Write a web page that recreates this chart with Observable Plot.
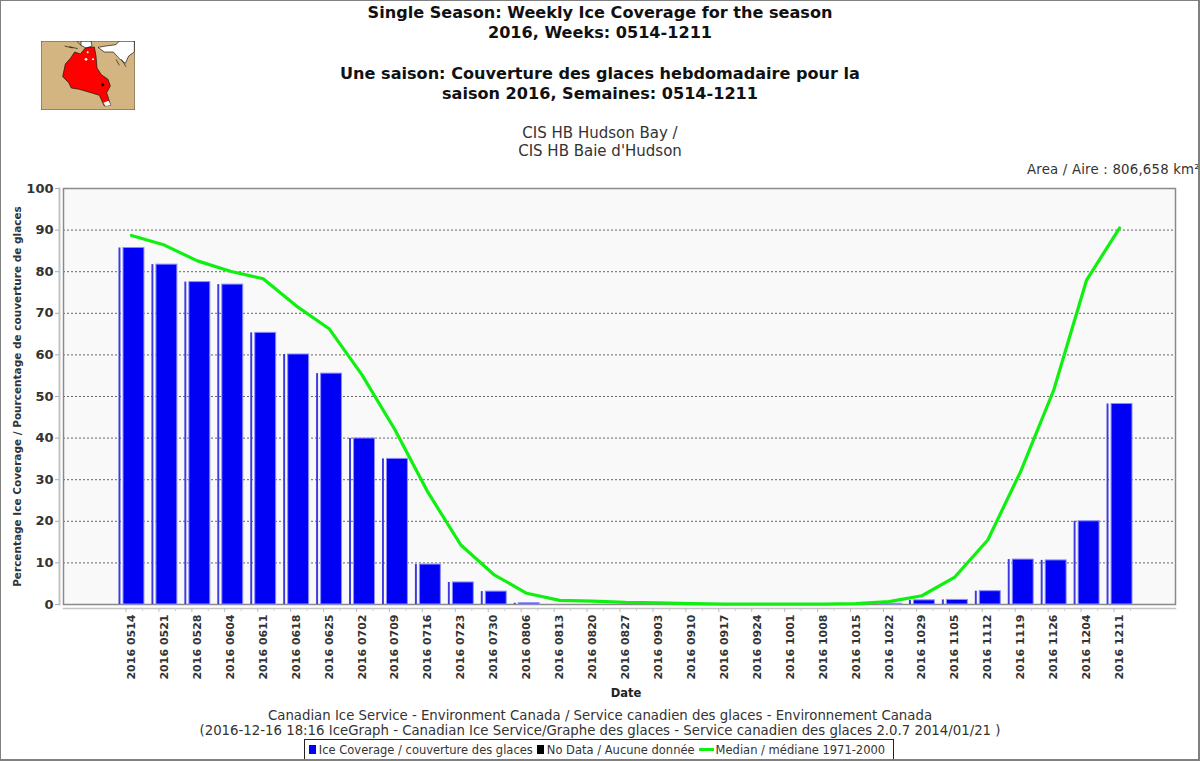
<!DOCTYPE html>
<html><head><meta charset="utf-8">
<script src="https://cdn.jsdelivr.net/npm/d3@7"></script>
<script src="https://cdn.jsdelivr.net/npm/@observablehq/plot@0.6"></script>
<style>
html,body{margin:0;padding:0;background:#fff;}
#page{position:relative;width:1200px;height:761px;overflow:hidden;font-family:"DejaVu Sans",sans-serif;color:#222;}
#edge{position:absolute;left:0;top:0;border:1px solid #808080;border-width:1px 2px 2px 1px;box-sizing:content-box;width:1197px;height:758px;pointer-events:none;}
.c{position:absolute;left:0;width:1200px;text-align:center;white-space:nowrap;}
.t{font-weight:bold;font-size:16.1px;color:#111;line-height:20px;}
.s{font-size:15px;color:#333;line-height:18px;}
.f{font-size:13.3px;color:#333;line-height:15px;}
#date{position:absolute;left:526px;width:200px;top:686px;text-align:center;font-weight:bold;font-size:11.5px;color:#222;}
#area{position:absolute;left:1027px;top:162px;font-size:13.3px;letter-spacing:.2px;color:#333;white-space:nowrap;}
#map{position:absolute;left:41px;top:41px;}
#chart{position:absolute;left:0;top:180px;}
#legend{position:absolute;left:304px;top:739px;width:588px;height:19px;border:1px solid #222;font-size:11.5px;color:#333;display:flex;align-items:center;justify-content:center;white-space:nowrap;box-sizing:content-box;}
#legend i{display:inline-block;width:7px;height:9px;margin:0 3px 0 0;}
#legend b{display:inline-block;width:15px;height:3px;background:#10f010;margin:0 2px 0 0;}
#legend span{margin-right:4px;}
</style></head>
<body>
<div id="page">
<div class="c t" style="top:3px">Single Season: Weekly Ice Coverage for the season<br>2016, Weeks: 0514-1211</div>
<div class="c t" style="top:64px">Une saison: Couverture des glaces hebdomadaire pour la<br>saison 2016, Semaines: 0514-1211</div>
<div class="c s" style="top:124px">CIS HB Hudson Bay /<br>CIS HB Baie d'Hudson</div>
<div id="area">Area / Aire : 806,658 km²</div>
<svg id="map" width="94" height="69" viewBox="15 15 282 207">
<rect x="15" y="15" width="282" height="207" fill="#d2b580"/>
<path d="M135 15 L165 15 L168 30 L150 36 L135 28 Z M186 34 L210 30 L240 26 L250 15 L295 15 L295 48 L278 60 L268 82 L250 68 L232 48 L205 48 Z" fill="#fff" stroke="#111" stroke-width="2"/>
<path d="M104 66 L116 48 L133 54 L148 36 L175 33 L180 60 L183 96 L196 116 L216 130 L223 150 L212 170 L224 208 L205 210 L190 178 L165 170 L130 160 L106 156 L98 140 L80 122 L88 84 Z" fill="#f00" stroke="#111" stroke-width="2"/>
<path d="M202 200 L218 194 L224 208 L208 210 Z" fill="#fff"/>
<circle cx="200" cy="146" r="5" fill="#111"/><circle cx="150" cy="70" r="4" fill="#fff"/><circle cx="171" cy="70" r="3" fill="#fff"/><circle cx="155" cy="49" r="3" fill="#fff"/>
<path d="M100 32 L125 38 M122 15 L135 28 M86 30 L110 36 M240 70 L250 88 M256 70 L270 92" stroke="#111" stroke-width="2" fill="none"/>
<rect x="15" y="15" width="282" height="207" fill="none" stroke="#222" stroke-width="2"/>
</svg>
<div id="chart"></div>
<div id="date">Date</div>
<div class="c f" style="top:708px">Canadian Ice Service - Environment Canada / Service canadien des glaces - Environnement Canada</div>
<div class="c f" style="top:723px">(2016-12-16 18:16 IceGraph - Canadian Ice Service/Graphe des glaces - Service canadien des glaces 2.0.7 2014/01/21 )</div>
<div id="legend"><i style="background:#00f"></i><span>Ice Coverage / couverture des glaces</span><i style="background:#000"></i><span>No Data / Aucune donnée</span><b></b><span>Median / médiane 1971-2000</span></div>
<div id="edge"></div>
</div>
<script>
const weeks = ["0514","0521","0528","0604","0611","0618","0625","0702","0709","0716","0723","0730","0806","0813","0820","0827","0903","0910","0917","0924","1001","1008","1015","1022","1029","1105","1112","1119","1126","1204","1211"];
const coverage = [85.7,81.7,77.5,76.9,65.3,60.1,55.5,39.9,35.0,9.6,5.3,3.1,0.3,0,0,0,0,0,0,0,0,0,0,0.2,1.0,1.1,3.2,10.8,10.6,20.0,48.2];
const median = [88.7,86.4,82.6,80.1,78.3,71.8,66.3,55.2,42.0,27.0,14.3,7.2,2.7,1.0,0.8,0.5,0.4,0.2,0.1,0.1,0.1,0.1,0.2,0.7,2.1,6.6,15.5,32.0,51.5,78.0,90.5];
const yTicks = [0,10,20,30,40,50,60,70,80,90,100];
const labels = weeks.map(w => "2016 " + w);
const rows = labels.map((label,i) => ({label, coverage: coverage[i], median: median[i]}));
const barRows = rows.filter(d => d.coverage > 0);
const chart = Plot.plot({
  width:1200, height:520,
  marginLeft:63, marginRight:25, marginTop:8, marginBottom:96,
  style:{fontFamily:'"DejaVu Sans",sans-serif', background:"transparent", color:"#333", overflow:"visible"},
  x:{type:"band", domain:labels, range:[114.5,1135.5], padding:0, round:false},
  y:{domain:[0,100], range:[424,8]},
  marks:[
    Plot.frame({fill:"#f9f9f9", stroke:null}),
    Plot.gridY(yTicks, {stroke:"#666", strokeOpacity:1, strokeDasharray:"2,2"}),
    Plot.frame({stroke:"#8a8a8a", strokeWidth:1.5}),
    Plot.frame({anchor:"left", dx:-4, stroke:"#c4c4c4", strokeWidth:2}),
    Plot.frame({anchor:"bottom", dy:4, stroke:"#c4c4c4", strokeWidth:1.5}),
    Plot.barY(barRows, {x:"label", y:"coverage", insetLeft:4, insetRight:27, fill:"#3a3ae0"}),
    Plot.barY(barRows, {x:"label", y:"coverage", insetLeft:8.5, insetRight:3.5, fill:"#0000f5", stroke:"#8c8cff", strokeWidth:1}),
    Plot.line(rows, {x:"label", y:"median", stroke:"#10f010", strokeWidth:3.2, curve:"linear"}),
    Plot.axisY(yTicks, {anchor:"left", tickSize:4, dx:-4, tickPadding:2, stroke:"#aaa", fontWeight:"bold", fontSize:13, label:null}),
    Plot.axisY([], {anchor:"left", tickSize:0, fontWeight:"bold", fontSize:10.5, label:"Percentage Ice Coverage / Pourcentage de couverture de glaces", labelAnchor:"center", labelArrow:"none", labelOffset:50}),
    Plot.axisX({anchor:"bottom", tickSize:0, tickRotate:-90, tickPadding:10, fontWeight:"bold", fontSize:11, label:null}),
    Plot.axisX({anchor:"bottom", tickSize:4, tickFormat:null, dx:-5.5, dy:4, stroke:"#bbb", label:null}),
    Plot.axisX({anchor:"bottom", tickSize:3, tickFormat:null, dx:11, dy:4, stroke:"#ccc", label:null})
  ]
});
document.getElementById("chart").appendChild(chart);
</script>
</body></html>
